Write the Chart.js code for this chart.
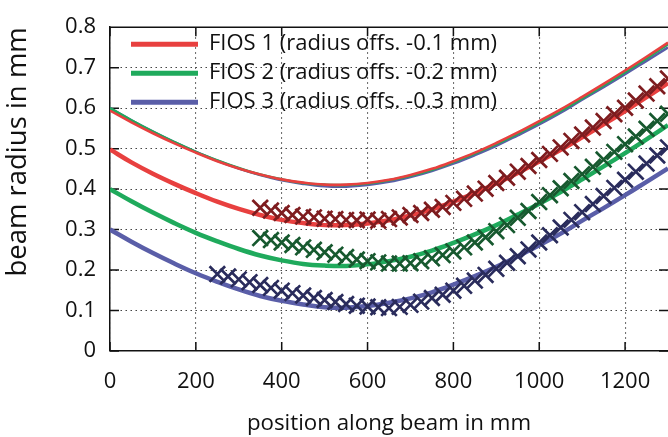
<!DOCTYPE html>
<html>
<head>
<meta charset="utf-8">
<script src="https://cdn.jsdelivr.net/npm/chart.js@4/dist/chart.umd.min.js"></script>
<style>
  html, body { margin: 0; padding: 0; background: #ffffff; }
  #wrap { width: 668px; height: 437px; position: relative; }
</style>
</head>
<body>
<div id="wrap"><canvas id="c" width="668" height="437"></canvas></div>
<script>
// ---- data ----
const curvePositions = [0,50,100,150,200,250,300,350,400,450,500,550,600,650,700,750,800,850,900,950,1000,1050,1100,1150,1200,1250,1300];

// fitted curves without offset (the three nearly coincident upper curves)
const fios1Fit = [0.594,0.565,0.538,0.513,0.490,0.469,0.451,0.436,0.424,0.416,0.411,0.411,0.415,0.423,0.435,0.450,0.469,0.490,0.514,0.540,0.568,0.597,0.628,0.660,0.693,0.727,0.762];
const fios2Fit = [0.600,0.570,0.542,0.516,0.492,0.471,0.452,0.436,0.424,0.415,0.411,0.410,0.414,0.422,0.433,0.448,0.467,0.488,0.511,0.537,0.564,0.593,0.624,0.656,0.689,0.723,0.758];
const fios3Fit = [0.600,0.570,0.542,0.516,0.492,0.470,0.451,0.435,0.422,0.413,0.407,0.406,0.410,0.418,0.430,0.445,0.463,0.484,0.507,0.533,0.560,0.589,0.621,0.652,0.684,0.717,0.750];

// fitted curves with radius offset (thick lines)
const fios1Offs = [0.498,0.466,0.438,0.413,0.390,0.369,0.351,0.336,0.324,0.316,0.311,0.311,0.315,0.323,0.335,0.350,0.369,0.390,0.414,0.440,0.468,0.497,0.528,0.560,0.593,0.627,0.662];
const fios2Offs = [0.400,0.370,0.342,0.316,0.292,0.271,0.252,0.236,0.224,0.215,0.211,0.210,0.214,0.222,0.233,0.248,0.267,0.288,0.311,0.337,0.364,0.393,0.424,0.456,0.489,0.523,0.558];
const fios3Offs = [0.300,0.270,0.242,0.216,0.192,0.171,0.152,0.136,0.124,0.115,0.108,0.107,0.111,0.119,0.130,0.145,0.164,0.185,0.208,0.234,0.261,0.290,0.322,0.353,0.385,0.418,0.451];

// measured beam radii (cross markers)
const meas1Pos = [350,375,400,425,450,475,500,525,550,575,600,625,650,675,700,725,750,775,800,825,850,875,900,925,950,975,1000,1025,1050,1075,1100,1125,1150,1175,1200,1225,1250,1275,1300];
const meas1Val = [0.354,0.347,0.341,0.336,0.332,0.330,0.327,0.326,0.324,0.323,0.325,0.322,0.326,0.330,0.336,0.341,0.349,0.356,0.366,0.376,0.389,0.401,0.415,0.428,0.443,0.457,0.472,0.487,0.503,0.519,0.535,0.552,0.568,0.585,0.601,0.619,0.636,0.654,0.673];
const meas2Pos = [350,375,400,425,450,475,500,525,550,575,600,625,650,675,700,725,750,775,800,825,850,875,900,925,950,975,1000,1025,1050,1075,1100,1125,1150,1175,1200,1225,1250,1275,1300];
const meas2Val = [0.279,0.274,0.268,0.262,0.256,0.250,0.244,0.238,0.232,0.226,0.222,0.219,0.216,0.216,0.217,0.222,0.229,0.237,0.246,0.256,0.268,0.281,0.296,0.311,0.329,0.346,0.368,0.385,0.402,0.420,0.437,0.455,0.473,0.492,0.511,0.530,0.549,0.568,0.586];
const meas3Pos = [250,275,300,325,350,375,400,425,450,475,500,525,550,575,600,625,650,675,700,725,750,775,800,825,850,875,900,925,950,975,1000,1025,1050,1075,1100,1125,1150,1175,1200,1225,1250,1275,1300];
const meas3Val = [0.190,0.184,0.177,0.170,0.163,0.156,0.149,0.143,0.137,0.131,0.126,0.121,0.116,0.112,0.110,0.108,0.106,0.109,0.114,0.122,0.131,0.139,0.149,0.161,0.174,0.188,0.203,0.218,0.234,0.251,0.268,0.286,0.305,0.324,0.343,0.363,0.383,0.403,0.423,0.443,0.463,0.483,0.503];

const legendLabels = ['FIOS 1 (radius offs. -0.1 mm)', 'FIOS 2 (radius offs. -0.2 mm)', 'FIOS 3 (radius offs. -0.3 mm)'];
const xTickValues = [0,200,400,600,800,1000,1200];
const yTickValues = [0,0.1,0.2,0.3,0.4,0.5,0.6,0.7,0.8];

// ---- styles ----
const RED = '#e8403f', GREEN = '#1faa5c', BLUE = '#5a5ea8';
const DRED = '#7e1c1f', DGREEN = '#17592f', DBLUE = '#2a2c5c';
const FONT = "'Open Sans', 'DejaVu Sans', sans-serif";

const pts = (xs, ys) => xs.map((x, i) => ({x: x, y: ys[i]}));

function curve(label, ys, color, width, order) {
  return { label: label, data: pts(curvePositions, ys), showLine: true, borderColor: color, backgroundColor: color,
    borderWidth: width, pointRadius: 0, pointHoverRadius: 0, tension: 0.4, fill: false, order: order };
}
function marks(xs, ys, color) {
  return { label: '', data: pts(xs, ys), showLine: false, pointStyle: 'crossRot', pointRadius: 11,
    borderColor: color, backgroundColor: color, pointBorderWidth: 2.7, borderWidth: 2.7, order: 0 };
}

const datasets = [
  curve(legendLabels[0], fios1Offs, RED, 4.5, 2),
  curve(legendLabels[1], fios2Offs, GREEN, 4.5, 2),
  curve(legendLabels[2], fios3Offs, BLUE, 4.5, 2),
  curve('', fios3Fit, BLUE, 2.6, 5),
  curve('', fios2Fit, GREEN, 2.6, 4),
  curve('', fios1Fit, RED, 2.6, 3),
  marks(meas1Pos, meas1Val, DRED),
  marks(meas2Pos, meas2Val, DGREEN),
  marks(meas3Pos, meas3Val, DBLUE)
];

const inwardTicks = {
  id: 'inwardTicks',
  afterLayout(chart) {
    const lg = chart.legend;
    if (lg) {
      const ca = chart.chartArea;
      const dx = ca.left + 14 - lg.left;
      const dy = ca.top - 1 - lg.top;
      lg.left += dx; lg.right += dx; lg.top += dy; lg.bottom += dy;
    }
  },
  beforeDatasetsDraw(chart) {
    const {ctx, chartArea: {left, right, top, bottom}, scales: {x, y}} = chart;
    ctx.save();
    ctx.strokeStyle = '#111';
    ctx.lineWidth = 1.5;
    ctx.beginPath();
    x.ticks.forEach(t => {
      const px = x.getPixelForValue(t.value);
      ctx.moveTo(px, bottom); ctx.lineTo(px, bottom - 9);
      ctx.moveTo(px, top); ctx.lineTo(px, top + 9);
    });
    y.ticks.forEach(t => {
      const py = y.getPixelForValue(t.value);
      ctx.moveTo(left, py); ctx.lineTo(left + 9, py);
      ctx.moveTo(right, py); ctx.lineTo(right - 9, py);
    });
    ctx.moveTo(left, top); ctx.lineTo(right, top);
    ctx.stroke();
    ctx.restore();
  }
};

new Chart(document.getElementById('c'), {
  type: 'scatter',
  data: { datasets: datasets },
  options: {
    responsive: false,
    animation: false,
    events: [],
    layout: { autoPadding: false, padding: { left: 0, right: 0, top: 15, bottom: 0 } },
    plugins: {
      tooltip: { enabled: false },
      title: { display: false },
      legend: {
        display: true,
        position: 'chartArea',
        align: 'start',
        labels: {
          font: { family: FONT, size: 22 },
          color: '#111',
          boxWidth: 67,
          boxHeight: 5,
          padding: 7,
          generateLabels: (chart) => legendLabels.map((text, i) => ({
            text: text, fillStyle: [RED, GREEN, BLUE][i], strokeStyle: [RED, GREEN, BLUE][i],
            lineWidth: 0, hidden: false, datasetIndex: i, fontColor: '#111'
          }))
        }
      }
    },
    scales: {
      x: {
        type: 'linear', min: 0, max: 1300,
        afterBuildTicks: (s) => { s.ticks = xTickValues.map(v => ({value: v})); },
        afterFit: (s) => { s.height = 86; s.paddingLeft = 0; s.paddingRight = 0; },
        ticks: { font: { family: FONT, size: 22 }, color: '#111', padding: 18, maxRotation: 0, autoSkip: false,
          callback: (v) => String(v) },
        grid: { display: true, drawTicks: false, color: '#444', lineWidth: 1.1 },
        border: { display: true, color: '#111', width: 1.5, dash: [1.5, 3.5] },
        title: { display: true, text: 'position along beam in mm', font: { family: FONT, size: 22.3 }, color: '#111',
          padding: { top: 0, bottom: 0 } }
      },
      y: {
        type: 'linear', min: 0, max: 0.8,
        afterBuildTicks: (s) => { s.ticks = yTickValues.map(v => ({value: v})); },
        afterFit: (s) => { s.width = 110; },
        ticks: { font: { family: FONT, size: 22 }, color: '#111', padding: 14, autoSkip: false,
          callback: (v) => String(+v.toFixed(1)) },
        grid: { display: true, drawTicks: false, color: '#444', lineWidth: 1.1 },
        border: { display: true, color: '#111', width: 1.5, dash: [1.5, 3.5] },
        title: { display: true, text: 'beam radius in mm', align: 'end', font: { family: FONT, size: 27.5 }, color: '#111',
          padding: { top: 2, bottom: 0 } }
      }
    }
  },
  plugins: [inwardTicks]
});
</script>
</body>
</html>
